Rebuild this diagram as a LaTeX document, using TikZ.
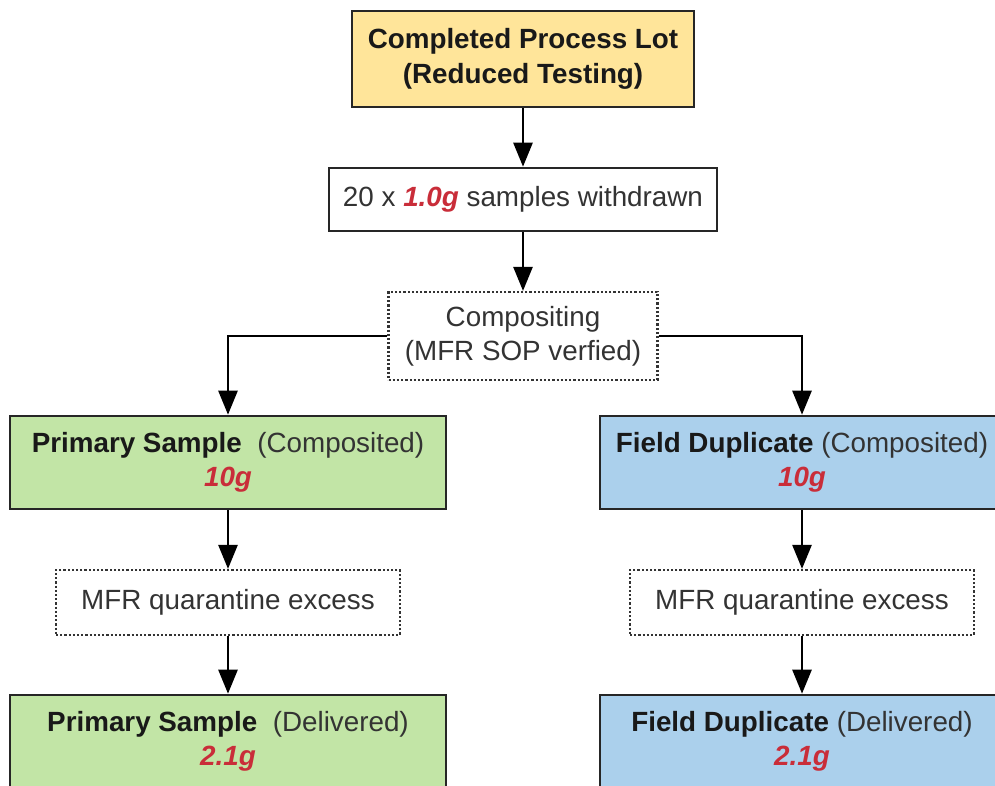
\documentclass[tikz,border=0pt]{standalone}
\usepackage{fontspec}
\setmainfont{Liberation Sans}
\usetikzlibrary{arrows.meta}
\definecolor{lotyellow}{HTML}{FFE59A}
\definecolor{primgreen}{HTML}{C2E5A6}
\definecolor{dupblue}{HTML}{ABD0EC}
\definecolor{amtred}{HTML}{C92D39}
\definecolor{txtgray}{HTML}{333333}
\newcommand{\amt}[1]{{\color{amtred}\bfseries\itshape #1}}
\tikzset{
  base/.style={rectangle, inner sep=0pt, align=center, text=txtgray,
    font=\fontsize{27.8}{34}\selectfont},
  solidbox/.style={base, draw=black!85, line width=2.6pt},
  dotbox/.style={base, draw=black!80, line width=2.2pt, dash pattern=on 2.2pt off 2pt},
  conn/.style={draw=black, line width=2.6pt,
    -{Triangle[width=19pt,length=24pt]}},
}
\begin{document}
\begin{tikzpicture}[x=1pt,y=-1pt]
\useasboundingbox (0,0) rectangle (995,786);
\clip (0,0) rectangle (995,786);
\node[solidbox, fill=lotyellow, minimum width=342pt, minimum height=96pt, text=black!90, font=\fontsize{27.8}{35}\selectfont\bfseries]
  (lot) at (523,59) {Completed Process Lot\\(Reduced Testing)};
\node[solidbox, fill=white, minimum width=388pt, minimum height=63pt]
  (withdraw) at (523,199.5) {20 x \amt{1.0g} samples withdrawn};
\node[dotbox, fill=white, minimum width=269pt, minimum height=88pt]
  (comp) at (523,336) {Compositing\\(MFR SOP verfied)};
\node[solidbox, fill=primgreen, minimum width=436pt, minimum height=93pt]
  (pcomp) at (228,462.5) {{\color{black!90}\bfseries Primary Sample}\ \ (Composited)\\\amt{10g}};
\node[solidbox, fill=dupblue, minimum width=404pt, minimum height=93pt]
  (dcomp) at (802,462.5) {{\color{black!90}\bfseries Field Duplicate} (Composited)\\\amt{10g}};
\node[dotbox, fill=white, minimum width=344pt, minimum height=65pt]
  (pquar) at (228,602.5) {MFR quarantine excess};
\node[dotbox, fill=white, minimum width=344pt, minimum height=65pt]
  (dquar) at (802,602.5) {MFR quarantine excess};
\node[solidbox, fill=primgreen, minimum width=436pt, minimum height=93pt]
  (pdel) at (228,741.5) {{\color{black!90}\bfseries Primary Sample}\ \ (Delivered)\\\amt{2.1g}};
\node[solidbox, fill=dupblue, minimum width=404pt, minimum height=93pt]
  (ddel) at (802,741.5) {{\color{black!90}\bfseries Field Duplicate} (Delivered)\\\amt{2.1g}};
\draw[conn] (lot.south) -- (withdraw.north);
\draw[conn] (withdraw.south) -- (comp.north);
\draw[conn] (comp.west) -| (pcomp.north);
\draw[conn] (comp.east) -| (dcomp.north);
\draw[conn] (pcomp.south) -- (pquar.north);
\draw[conn] (dcomp.south) -- (dquar.north);
\draw[conn] (pquar.south) -- (pdel.north);
\draw[conn] (dquar.south) -- (ddel.north);
\end{tikzpicture}
\end{document}
